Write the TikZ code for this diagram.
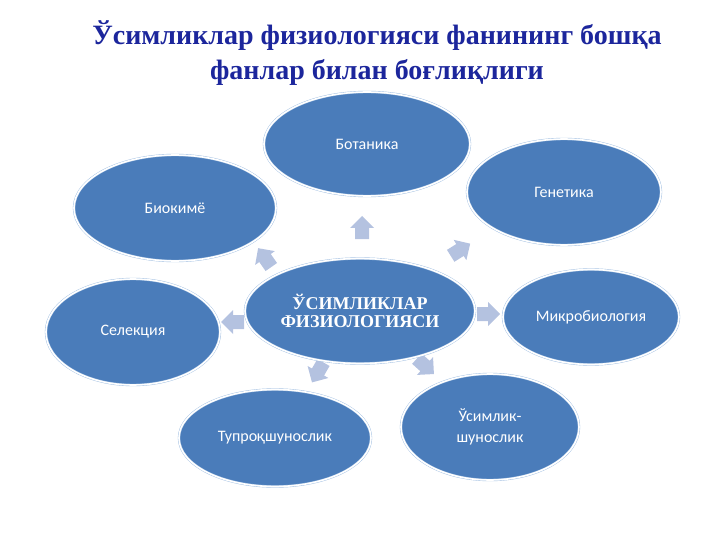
\documentclass[tikz,border=0pt]{standalone}
\usepackage{fontspec}
\setmainfont{Liberation Serif}
\newfontfamily\labelfont{Carlito}
\usepackage{tikz}
\usetikzlibrary{shapes.geometric}
\usetikzlibrary{positioning}
\definecolor{titleblue}{RGB}{28,38,156}
\definecolor{discfill}{RGB}{74,124,186}
\definecolor{discedge}{RGB}{160,190,225}
\definecolor{arrowfill}{RGB}{172,187,221}

\begin{document}
\begin{tikzpicture}[x=1pt,y=-1pt,
% define styles here
disc/.style={ellipse, fill=discfill, draw=discedge, double=white, double distance=1.6pt, inner sep=0pt, text=white, align=center, font=\labelfont\fontsize{16}{21}\selectfont},
hubdisc/.style={disc, font=\bfseries\fontsize{18}{18}\selectfont},
blockarrow/.pic={\fill[arrowfill, fill opacity=0.9] (-11,-7) -- (0,-7) -- (0,-12) -- (12,0) -- (0,12) -- (0,7) -- (-11,7) -- cycle;}
]
\useasboundingbox (0,0) rectangle (720,540);

% title
\node[font=\bfseries\fontsize{28}{35}\selectfont, text=titleblue, align=center] (title) at (377,53)
  {Ўсимликлар физиологияси фанининг бошқа\\фанлар билан боғлиқлиги};

% arrows
\pic[rotate=125] at (265,258) {blockarrow};
\pic[rotate=90] at (362,228) {blockarrow};
\pic[rotate=32] at (460,250) {blockarrow};
\pic[rotate=0] at (488,314) {blockarrow};
\pic[rotate=-42] at (425,366) {blockarrow};
\pic[rotate=-120] at (318,372) {blockarrow};
\pic[rotate=180] at (233,322) {blockarrow};

% outer discs
\node[disc, minimum width=206pt, minimum height=104pt] (botanika) at (367,144) {Ботаника};
\node[disc, minimum width=202pt, minimum height=106pt] (biokimyo) at (175,208) {Биокимё};
\node[disc, minimum width=194pt, minimum height=106pt] (genetika) at (564,192) {Генетика};
\node[disc, minimum width=176pt, minimum height=95pt] (mikro) at (591,317) {Микробиология};
\node[disc, minimum width=174pt, minimum height=106pt] (seleksiya) at (133,332) {Селекция};
\node[disc, minimum width=192pt, minimum height=97pt] (tuproq) at (275,438) {Тупроқшунослик};
\node[disc, minimum width=178pt, minimum height=106pt] (osimlik) at (490,427) {Ўсимлик-\\шунослик};

% hub
\node[hubdisc, minimum width=230pt, minimum height=105pt] (hub) at (360,311) {ЎСИМЛИКЛАР\\ФИЗИОЛОГИЯСИ};
\end{tikzpicture}
\end{document}
